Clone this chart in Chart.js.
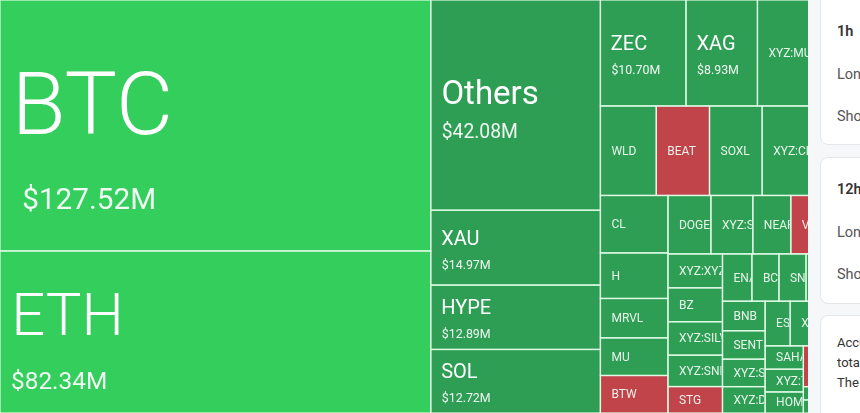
<!DOCTYPE html>
<html>
<head>
<meta charset="utf-8">
<script src="https://cdn.jsdelivr.net/npm/chart.js@4.4.1/dist/chart.umd.min.js"></script>
<style>
html,body{margin:0;padding:0;overflow:hidden;background:#f6f7f8;}
body{width:860px;height:413px;position:relative;font-family:Roboto,'Noto Sans',sans-serif;}
#wrap{position:absolute;left:0;top:0;width:860px;height:413px;}
#side{position:absolute;left:808px;top:0;width:52px;height:413px;background:#f6f7f8;overflow:hidden;}
.card{position:absolute;left:12px;width:300px;background:#fff;border:1px solid #e4e6e9;border-radius:8px;box-sizing:border-box;}
.t{position:absolute;left:29px;white-space:nowrap;line-height:20px;font-size:14.5px;color:#555;}
.t.h{color:#333;font-weight:600;}
.t.s{font-size:13px;color:#333;}
</style>
</head>
<body>
<div id="wrap"><canvas id="map" width="860" height="413"></canvas></div>
<div id="side">
  <div class="card" style="top:-12px;height:157px"></div>
  <div class="card" style="top:157px;height:147px"></div>
  <div class="card" style="top:315px;height:140px"></div>
  <div class="t h" style="top:22px">1h</div>
  <div class="t" style="top:65px">Long</div>
  <div class="t" style="top:107px">Short</div>
  <div class="t h" style="top:180px">12h</div>
  <div class="t" style="top:223px">Long</div>
  <div class="t" style="top:265px">Short</div>
  <div class="t s" style="top:333px">Accumulated liquidations</div>
  <div class="t s" style="top:353px">total over the period.</div>
  <div class="t s" style="top:373px">The map shows each asset.</div>
</div>
<script>
// liquidation volume per asset, $M (sorted high to low)
const names = ['BTC','ETH','Others','XAU','HYPE','SOL','ZEC','XAG','XYZ:MU','XRP',
  'WLD','BEAT','SOXL','XYZ:CL','SUI','CL','H','MRVL','MU','BTW',
  'DOGE','XYZ:SMSN','NEAR','VVV','PUMP','XYZ:XYZ100','BZ','XYZ:SILVER','XYZ:SNDK','STG',
  'ENA','BCH','SNDK','AVAX','ADA','BNB','SENT','XYZ:SKHX','XYZ:DKNG','ES',
  'XPL','AAVE','LTC','SAHARA','XYZ:TSLA','HOME','TAO','ONDO','PENGU','ARB','OP','APT'];
const values = [127.52,82.34,42.08,14.97,12.89,12.72,10.70,8.93,6.50,6.32,
  5.90,5.62,5.56,5.20,5.13,4.58,3.63,3.14,3.00,2.99,
  2.96,2.89,2.62,2.40,2.37,2.18,2.18,2.15,2.02,1.70,
  1.64,1.51,1.51,1.51,1.50,1.488,1.428,1.382,1.327,1.32,
  1.23,1.225,1.22,1.054,1.027,0.95,0.93,0.91,0.887,0.60,0.59,0.572];
// 2 = strongly long-heavy, 1 = long-heavy, -1 = short-heavy
const bias = [2,2,1,1,1,1,1,1,1,1,
  1,-1,1,1,1,1,1,1,1,-1,
  1,1,1,-1,1,1,1,1,1,-1,
  1,1,1,1,1,1,1,1,1,1,
  1,1,1,1,1,1,-1,1,1,1,1,1];

const GRID_W = 860, GRID_H = 413;
const PHI = (1 + Math.sqrt(5)) / 2;
const COLORS = {'2':'#33ce5c','1':'#2f9e55','-1':'#c1444b'};

// squarified layout (golden ratio rows), same idea as d3.treemapSquarify
function squarify(items, x0, y0, x1, y1){
  let value = items.reduce(function(s,d){return s+d.value;},0);
  let i0=0, i1=0; const n=items.length;
  while(i0<n){
    const dx=x1-x0, dy=y1-y0;
    let sum=items[i1++].value, minV=sum, maxV=sum;
    const alpha=Math.max(dy/dx, dx/dy)/(value*PHI);
    let beta=sum*sum*alpha;
    let minRatio=Math.max(maxV/beta, beta/minV);
    for(; i1<n; ++i1){
      const v=items[i1].value;
      sum+=v; if(v<minV) minV=v; if(v>maxV) maxV=v;
      beta=sum*sum*alpha;
      const r=Math.max(maxV/beta, beta/minV);
      if(r>minRatio){ sum-=v; break; }
      minRatio=r;
    }
    const row=items.slice(i0,i1);
    if(dx<dy){
      const yy=y0+dy*sum/value; let xx=x0;
      row.forEach(function(d){ const w=dx*d.value/sum; d.x0=xx; d.x1=xx+w; d.y0=y0; d.y1=yy; xx+=w; });
      y0=yy;
    } else {
      const xx=x0+dx*sum/value; let yy=y0;
      row.forEach(function(d){ const h=dy*d.value/sum; d.x0=x0; d.x1=xx; d.y0=yy; d.y1=yy+h; yy+=h; });
      x0=xx;
    }
    value-=sum; i0=i1;
  }
  return items;
}

const cells = squarify(names.map(function(nm,i){ return {name:nm, value:values[i], bias:bias[i]}; })
  .sort(function(a,b){ return b.value-a.value; }), 0, 0, GRID_W, GRID_H);

const cellPlugin = {
  id:'cells',
  beforeDatasetsDraw: function(chart){
    const ctx=chart.ctx, xs=chart.scales.x, ys=chart.scales.y;
    const boxes=cells.map(function(c){
      return {c:c, x0:xs.getPixelForValue(c.x0), x1:xs.getPixelForValue(c.x1),
              y0:ys.getPixelForValue(c.y0), y1:ys.getPixelForValue(c.y1)};
    });
    ctx.save();
    boxes.forEach(function(b){
      ctx.fillStyle=COLORS[String(b.c.bias)];
      ctx.fillRect(b.x0, b.y0, b.x1-b.x0, b.y1-b.y0);
    });
    ctx.strokeStyle='rgba(226,252,232,0.9)';
    ctx.lineWidth=1.3;
    boxes.forEach(function(b){ ctx.strokeRect(b.x0, b.y0, b.x1-b.x0, b.y1-b.y0); });
    boxes.forEach(function(b){
      const w=b.x1-b.x0, h=b.y1-b.y0, c=b.c;
      ctx.save();
      ctx.beginPath(); ctx.rect(b.x0+1, b.y0+1, w-2, h-2); ctx.clip();
      ctx.textAlign='left';
      if(w>=60 && h>=60){
        const fs=Math.max(20, 88*Math.pow(c.value/127.52, 0.885));
        const vs=Math.min(fs*0.62, 13+fs*0.19);
        const capN=fs*0.711, diff=0.75*fs+9;
        const top=(b.y0+b.y1)/2 + 2 + Math.max(0,fs-20)*0.18 - (capN+diff)/2;
        const padN=10+fs*0.02, padV=11+Math.max(0,fs-60)*0.4;
        ctx.textBaseline='alphabetic';
        ctx.fillStyle='#ffffff';
        ctx.font=(fs>40?'300 ':'400 ')+fs.toFixed(1)+'px Roboto';
        ctx.fillText(c.name, b.x0+padN, top+capN);
        ctx.fillStyle='rgba(255,255,255,0.92)';
        ctx.font=vs.toFixed(1)+'px Roboto';
        ctx.fillText('$'+c.value.toFixed(2)+'M', b.x0+padV, top+capN+diff);
      } else {
        ctx.textBaseline='middle';
        ctx.fillStyle='rgba(240,250,242,0.95)';
        ctx.font='12px Roboto';
        ctx.fillText(c.name, b.x0+11, (b.y0+b.y1)/2+1);
      }
      ctx.restore();
    });
    ctx.restore();
  }
};

new Chart(document.getElementById('map'), {
  type:'scatter',
  data:{datasets:[{
    label:'Liquidations',
    data:cells.map(function(c){ return {x:(c.x0+c.x1)/2, y:(c.y0+c.y1)/2}; }),
    pointRadius:0, pointHoverRadius:0
  }]},
  options:{
    responsive:false, maintainAspectRatio:false, animation:false, events:[],
    layout:{padding:0},
    scales:{
      x:{type:'linear', min:0, max:GRID_W, display:false},
      y:{type:'linear', min:0, max:GRID_H, reverse:true, display:false}
    },
    plugins:{legend:{display:false}, tooltip:{enabled:false}}
  },
  plugins:[cellPlugin]
});
</script>
</body>
</html>
